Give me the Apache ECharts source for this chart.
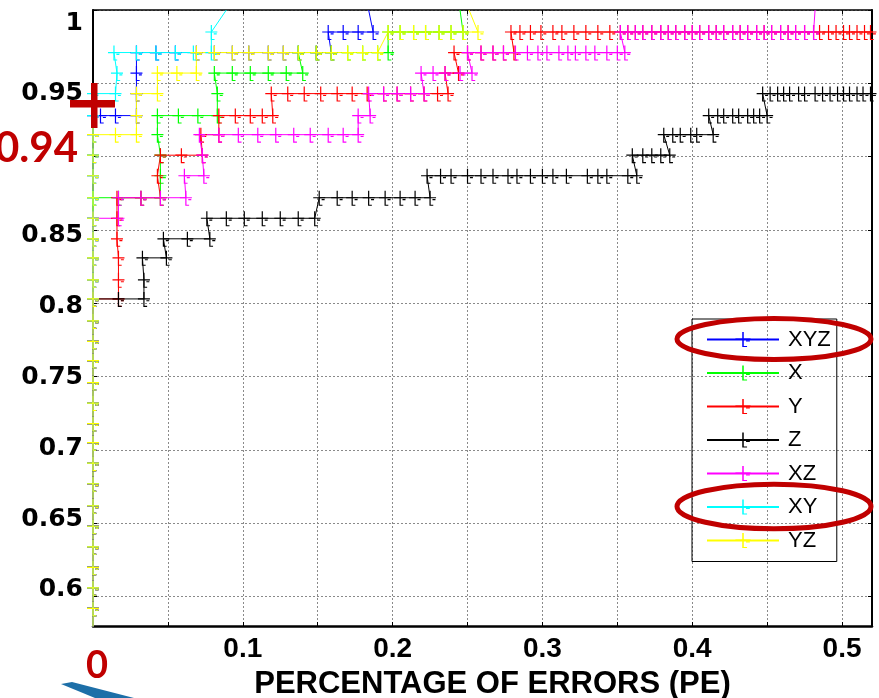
<!DOCTYPE html>
<html>
<head>
<meta charset="utf-8">
<script src="https://cdn.jsdelivr.net/npm/echarts@6/dist/echarts.min.js"></script>
<style>
  html, body { margin: 0; padding: 0; background: #fff; }
  #chart { width: 879px; height: 698px; }
</style>
</head>
<body>
<div id="chart"></div>
<script>
// Detection rate vs. percentage of errors for the seven axis combinations.
const seriesNames  = ['XYZ', 'X', 'Y', 'Z', 'XZ', 'XY', 'YZ'];
const seriesColors = ['#0000ff', '#00ff00', '#ff0000', '#000000', '#ff00ff', '#00ffff', '#ffff00'];

// Levels reached along PE = 0 before each curve starts moving right.
const leftEdge = [0.578, 0.592, 0.606, 0.620, 0.634, 0.648, 0.662, 0.677, 0.691, 0.705,
                  0.718, 0.732, 0.746, 0.761, 0.774, 0.788, 0.803, 0.816, 0.831, 0.844,
                  0.858, 0.872, 0.887, 0.901, 0.915];
const edgeTop = [0.915, 0.872, 0.803, 0.803, 0.858, 0.915, 0.915];

const xyzPoints = [[0,0.928],[0.005,0.928],[0.015,0.928],[0.029,0.928],[0.029,0.943],[0.029,0.957],
  [0.029,0.971],[0.042,0.971],[0.055,0.971],[0.069,0.971],[0.081,0.971],[0.093,0.971],[0.104,0.971],
  [0.117,0.971],[0.127,0.971],[0.137,0.971],[0.149,0.971],[0.159,0.971],[0.157,0.985],[0.167,0.985],
  [0.177,0.985],[0.187,0.985],[0.184,1.0]];

const xPoints = [[0.017,0.872],[0.032,0.872],[0.045,0.872],[0.045,0.887],[0.045,0.901],[0.043,0.915],
  [0.043,0.928],[0.057,0.928],[0.070,0.928],[0.083,0.928],[0.083,0.943],[0.081,0.957],[0.093,0.957],
  [0.105,0.957],[0.117,0.957],[0.129,0.957],[0.140,0.957],[0.137,0.971],[0.149,0.971],[0.159,0.971],
  [0.170,0.971],[0.180,0.971],[0.190,0.971],[0.197,0.971],[0.197,0.985],[0.205,0.985],[0.214,0.985],
  [0.222,0.985],[0.231,0.985],[0.239,0.985],[0.247,0.985],[0.245,1.0]];

const yPoints = [[0.017,0.803],[0.017,0.816],[0.017,0.831],[0.016,0.844],[0.016,0.858],[0.016,0.872],
  [0.032,0.872],[0.045,0.872],[0.043,0.887],[0.045,0.901],[0.059,0.901],[0.073,0.901],[0.072,0.915],
  [0.084,0.915],[0.084,0.928],[0.095,0.928],[0.105,0.928],[0.113,0.928],[0.120,0.928],[0.119,0.943],
  [0.130,0.943],[0.141,0.943],[0.152,0.943],[0.163,0.943],[0.173,0.943],[0.183,0.943],[0.194,0.943],
  [0.203,0.943],[0.212,0.943],[0.221,0.943],[0.230,0.943],[0.237,0.943],[0.235,0.957],[0.244,0.957],
  [0.241,0.971],[0.250,0.971],[0.259,0.971],[0.267,0.971],[0.274,0.971],[0.281,0.971],[0.279,0.985],
  [0.285,0.985],[0.292,0.985],[0.299,0.985],[0.307,0.985],[0.313,0.985],[0.321,0.985],[0.329,0.985],
  [0.337,0.985],[0.345,0.985],[0.352,0.985],[0.357,0.985],[0.362,0.985],[0.367,0.985],[0.373,0.985],
  [0.379,0.985],[0.384,0.985],[0.389,0.985],[0.395,0.985],[0.400,0.985],[0.405,0.985],[0.411,0.985],
  [0.416,0.985],[0.421,0.985],[0.427,0.985],[0.432,0.985],[0.437,0.985],[0.443,0.985],[0.448,0.985],
  [0.453,0.985],[0.459,0.985],[0.464,0.985],[0.469,0.985],[0.475,0.985],[0.481,0.985],[0.485,0.985],
  [0.491,0.985],[0.496,0.985],[0.501,0.985],[0.505,0.985],[0.510,0.985],[0.515,0.985],[0.519,0.985],
  [0.524,0.985]];

const zPoints = [[0.017,0.803],[0.034,0.803],[0.034,0.816],[0.033,0.831],[0.049,0.831],[0.047,0.844],
  [0.063,0.844],[0.078,0.844],[0.076,0.858],[0.089,0.858],[0.101,0.858],[0.113,0.858],[0.125,0.858],
  [0.137,0.858],[0.148,0.858],[0.151,0.872],[0.163,0.872],[0.173,0.872],[0.184,0.872],[0.195,0.872],
  [0.205,0.872],[0.215,0.872],[0.225,0.872],[0.223,0.887],[0.232,0.887],[0.239,0.887],[0.250,0.887],
  [0.259,0.887],[0.267,0.887],[0.277,0.887],[0.283,0.887],[0.292,0.887],[0.300,0.887],[0.307,0.887],
  [0.316,0.887],[0.330,0.887],[0.337,0.887],[0.343,0.887],[0.357,0.887],[0.363,0.887],[0.360,0.901],
  [0.367,0.901],[0.373,0.901],[0.379,0.901],[0.385,0.901],[0.381,0.915],[0.387,0.915],[0.392,0.915],
  [0.399,0.915],[0.403,0.915],[0.414,0.915],[0.411,0.928],[0.417,0.928],[0.421,0.928],[0.427,0.928],
  [0.431,0.928],[0.437,0.928],[0.441,0.928],[0.445,0.928],[0.450,0.928],[0.447,0.943],[0.452,0.943],
  [0.457,0.943],[0.461,0.943],[0.465,0.943],[0.471,0.943],[0.475,0.943],[0.482,0.943],[0.487,0.943],
  [0.492,0.943],[0.497,0.943],[0.501,0.943],[0.505,0.943],[0.510,0.943],[0.514,0.943],[0.519,0.943],
  [0.524,0.943]];

const xzPoints = [[0.017,0.858],[0.017,0.872],[0.032,0.872],[0.045,0.872],[0.062,0.872],[0.061,0.887],
  [0.074,0.887],[0.073,0.901],[0.071,0.915],[0.084,0.915],[0.097,0.915],[0.110,0.915],[0.122,0.915],
  [0.134,0.915],[0.145,0.915],[0.157,0.915],[0.167,0.915],[0.177,0.915],[0.177,0.928],[0.185,0.928],
  [0.184,0.943],[0.194,0.943],[0.203,0.943],[0.212,0.943],[0.221,0.943],[0.219,0.957],[0.227,0.957],
  [0.235,0.957],[0.245,0.957],[0.253,0.957],[0.250,0.971],[0.259,0.971],[0.267,0.971],[0.274,0.971],
  [0.282,0.971],[0.290,0.971],[0.297,0.971],[0.303,0.971],[0.311,0.971],[0.317,0.971],[0.322,0.971],
  [0.329,0.971],[0.335,0.971],[0.343,0.971],[0.350,0.971],[0.355,0.971],[0.352,0.985],[0.357,0.985],
  [0.362,0.985],[0.367,0.985],[0.373,0.985],[0.379,0.985],[0.384,0.985],[0.389,0.985],[0.395,0.985],
  [0.400,0.985],[0.405,0.985],[0.411,0.985],[0.416,0.985],[0.421,0.985],[0.427,0.985],[0.432,0.985],
  [0.437,0.985],[0.443,0.985],[0.448,0.985],[0.453,0.985],[0.459,0.985],[0.464,0.985],[0.469,0.985],
  [0.475,0.985],[0.481,0.985],[0.482,1.0]];

const xyPoints = [[0,0.928],[0,0.943],[0.015,0.943],[0.016,0.957],[0.014,0.971],[0.029,0.971],
  [0.042,0.971],[0.055,0.971],[0.067,0.971],[0.079,0.971],[0.079,0.985],[0.089,1.0]];

const yzPoints = [[0.015,0.915],[0.029,0.915],[0.029,0.928],[0.029,0.943],[0.043,0.943],[0.043,0.957],
  [0.056,0.957],[0.069,0.957],[0.069,0.971],[0.081,0.971],[0.093,0.971],[0.104,0.971],[0.117,0.971],
  [0.127,0.971],[0.137,0.971],[0.149,0.971],[0.159,0.971],[0.170,0.971],[0.180,0.971],[0.190,0.971],
  [0.197,0.985],[0.205,0.985],[0.214,0.985],[0.222,0.985],[0.231,0.985],[0.239,0.985],[0.247,0.985],
  [0.257,0.985],[0.251,1.0]];

const seriesPoints = [xyzPoints, xPoints, yPoints, zPoints, xzPoints, xyPoints, yzPoints];

const xLabelValues = [0.1, 0.2, 0.3, 0.4, 0.5];
const yLabelValues = [0.6, 0.65, 0.7, 0.75, 0.8, 0.85, 0.95, 1];

// '+' marker with the small foot and tick that the plotted markers show
const PLUS = 'path://M0,6.4H12V7.6H0Z M5.4,0H6.6V15H5.4Z M6.6,13.9H9.2V15H6.6Z M8.4,8.3H11.4V9.4H8.4Z';
const RED = '#c00000';

function buildData(i) {
  const col = leftEdge.filter(y => y <= edgeTop[i] + 1e-9).map(y => [0, y]);
  const pts = col.concat(seriesPoints[i]);
  return pts.map(p => (p[1] >= 1 ? { value: p, symbol: 'none' } : p));
}

const gridLine = { show: true, lineStyle: { color: '#8a8a8a', width: 1, type: [2, 2] } };
const innerTick = { show: true, inside: true, length: 4, lineStyle: { color: '#000', width: 1 } };

const option = {
  animation: false,
  backgroundColor: '#fff',
  grid: { left: 93, right: 7, top: 10, bottom: 72, containLabel: false, outerBoundsMode: 'none' },
  legend: {
    data: seriesNames,
    orient: 'vertical',
    left: 692, top: 319,
    padding: [9.5, 6, 10, 14],
    itemWidth: 72, itemHeight: 19, itemGap: 11.5,
    borderColor: '#000', borderWidth: 1,
    backgroundColor: 'transparent',
    selectedMode: false,
    textStyle: { fontFamily: 'Liberation Sans', fontSize: 22, color: '#000', padding: [0, 0, 0, 4] }
  },
  xAxis: [
    {
      type: 'value', min: 0, max: 0.52, interval: 0.05, position: 'bottom',
      axisLine: { show: true, onZero: false, lineStyle: { color: '#000', width: 2.5 } },
      axisTick: innerTick,
      axisLabel: {
        margin: 9, color: '#000', fontFamily: 'Liberation Sans', fontWeight: 'bold', fontSize: 28, lineHeight: 28,
        formatter: v => {
          const hit = xLabelValues.find(t => Math.abs(t - v) < 1e-6);
          return hit === undefined ? '' : String(hit);
        }
      },
      splitLine: gridLine,
      name: 'PERCENTAGE OF ERRORS (PE)', nameLocation: 'middle', nameGap: 43,
      nameTextStyle: { fontFamily: 'Liberation Sans', fontWeight: 'bold', fontSize: 31, lineHeight: 31, color: '#000', padding: [0, 0, 0, 20] }
    },
    {
      type: 'value', min: 0, max: 0.52, interval: 0.05, position: 'top',
      axisLine: { show: true, onZero: false, lineStyle: { color: '#000', width: 1.5 } },
      axisTick: innerTick, axisLabel: { show: false }, splitLine: { show: false }
    }
  ],
  yAxis: [
    {
      type: 'value', min: 0.58, max: 1, splitNumber: 8, position: 'left',
      axisLine: { show: true, onZero: false, lineStyle: { color: '#000', width: 2 } },
      axisTick: innerTick, axisLabel: { show: false }, splitLine: gridLine
    },
    {
      type: 'value', min: 0.58, max: 1, splitNumber: 8, position: 'right',
      axisLine: { show: true, onZero: false, lineStyle: { color: '#000', width: 2 } },
      axisTick: innerTick, axisLabel: { show: false }, splitLine: { show: false }
    },
    {
      // tick labels of the vertical axis
      type: 'value', min: 0.5746, max: 1.0092, position: 'left',
      axisLine: { show: false }, axisTick: { show: false }, splitLine: { show: false },
      axisLabel: {
        customValues: yLabelValues, margin: 10, color: '#000',
        fontFamily: 'DejaVu Sans', fontWeight: 'bold', fontSize: 25,
        formatter: v => String(+Number(v).toFixed(2))
      }
    }
  ],
  series: seriesNames.map((name, i) => ({
    name, type: 'line', xAxisIndex: 0, yAxisIndex: 0,
    data: buildData(i),
    symbol: PLUS, symbolSize: [12, 15], symbolOffset: [0, 0.5],
    lineStyle: { color: seriesColors[i], width: 1 },
    itemStyle: { color: seriesColors[i], borderWidth: 0 },
    emphasis: { disabled: true },
    clip: true, silent: true
  })),
  graphic: [
    { type: 'rect', z: 100, shape: { x: 70, y: 100, width: 45, height: 7.5 }, style: { fill: RED } },
    { type: 'rect', z: 100, shape: { x: 91, y: 83, width: 6.5, height: 45 }, style: { fill: RED } },
    { type: 'text', z: 100, x: 78, y: 148, style: { text: '0.94', fill: RED, font: 'bold 42px Lato', align: 'right', verticalAlign: 'middle' } },
    { type: 'text', z: 100, x: 97, y: 666, style: { text: '0', fill: RED, font: 'bold 38px Lato', align: 'center', verticalAlign: 'middle' } },
    { type: 'ellipse', z: 100, shape: { cx: 774, cy: 339, rx: 97, ry: 20.5 }, style: { fill: 'none', stroke: RED, lineWidth: 5 } },
    { type: 'ellipse', z: 100, shape: { cx: 774, cy: 506.5, rx: 97, ry: 22.3 }, style: { fill: 'none', stroke: RED, lineWidth: 5 } },
    { type: 'polygon', z: 100, shape: { points: [[61, 684], [72, 682], [134, 698], [95, 698]] }, style: { fill: '#1d6fa8' } }
  ]
};

const chart = echarts.init(document.getElementById('chart'));
chart.setOption(option);
</script>
</body>
</html>
